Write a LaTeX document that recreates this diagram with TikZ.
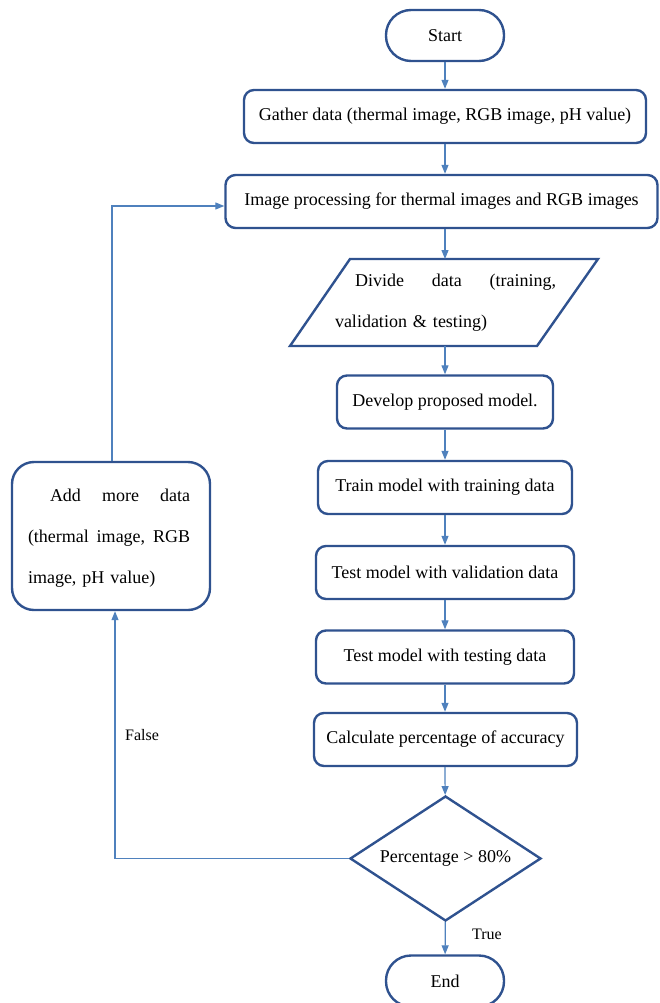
\documentclass[tikz,border=0pt]{standalone}
\usepackage{fontspec}
\setmainfont{Liberation Serif}
\usetikzlibrary{arrows.meta,shapes.geometric}
\definecolor{boxline}{RGB}{47,82,143}
\definecolor{arrowline}{RGB}{79,129,189}
\begin{document}
\begin{tikzpicture}[x=1pt,y=-1pt,
  every node/.style={font=\fontsize{18}{21}\selectfont},
  procbox/.style={draw=boxline,line width=2.4pt,rounded corners=10pt,inner sep=0pt,minimum height=53pt},
  termbox/.style={draw=boxline,line width=2.4pt,rounded corners=25pt,inner sep=0pt,minimum height=51pt,minimum width=118pt},
  flow/.style={draw=arrowline,line width=1.2pt,-{Triangle[length=9pt,width=7pt]}},
  lbl/.style={font=\fontsize{16}{19}\selectfont},
  wide/.style={inner sep=0pt,align=left,font=\fontsize{18}{41}\selectfont}]
\useasboundingbox (0,0) rectangle (659,1003);
\node[termbox] (start) at (445,35.5) {Start};
\node[procbox,minimum width=402pt] (gather) at (445,116.5) {Gather data (thermal image, RGB image, pH value)};
\node[procbox,minimum width=432pt] (imgproc) at (441.5,201.5) {Image processing for thermal images and RGB images};
\draw[boxline,line width=2.4pt,line join=miter] (350,259) -- (598,259) -- (537,346) -- (290,346) -- cycle;
\coordinate (divtop) at (445,259);
\coordinate (divbot) at (445,346);
\node[wide,text width=221pt] (divide) at (445.5,303)
  {\leavevmode\hspace*{20pt}\hbox to 201pt{Divide\hfill data\hfill (training,}\\validation \& testing)};
\node[procbox,minimum width=216pt] (develop) at (445,402) {Develop proposed model.};
\node[procbox,minimum width=254pt] (train) at (445,487.5) {Train model with training data};
\node[procbox,minimum width=258pt] (testval) at (445,572.5) {Test model with validation data};
\node[procbox,minimum width=258pt] (testtest) at (445,657) {Test model with testing data};
\node[procbox,minimum width=263pt] (calc) at (445.5,739.5) {Calculate percentage of accuracy};
\node[draw=boxline,line width=2.4pt,shape=diamond,inner sep=0pt,minimum width=191pt,minimum height=125pt,aspect=1.53] (dec) at (445.5,858.5) {Percentage > 80\%};
\node[termbox] (end) at (445,981) {End};
\node[draw=boxline,line width=2.4pt,rounded corners=22pt,minimum width=198pt,minimum height=148pt] (add) at (111,536) {};
\node[wide,text width=162pt] (addtxt) at (109,538)
  {\leavevmode\hspace*{22pt}\hbox to 140pt{Add\hfill more\hfill data}\\\leavevmode\hbox to 162pt{(thermal\hfill image,\hfill RGB}\\image, pH value)};
\coordinate (gs) at (gather.south);
\draw[flow] (start) -- (gather);
\draw[flow] (gs) -- (gs |- imgproc.north);
\draw[flow] (gs |- imgproc.south) -- (divtop);
\draw[flow] (divbot) -- (develop);
\draw[flow] (develop) -- (train);
\draw[flow] (train) -- (testval);
\draw[flow] (testval) -- (testtest);
\draw[flow] (testtest) -- (gs |- calc.north);
\draw[flow] (gs |- calc.south) -- (dec);
\draw[flow] (dec) -- (end);
\coordinate (fl) at (115,858.5);
\draw[flow] (dec.west) -- (fl) -- (add.south -| fl);
\coordinate (tl) at (112,206);
\draw[flow] (add.north -| tl) -- (tl) -- (tl -| imgproc.west);
\node[lbl] (false) at (142,735) {False};
\node[lbl] (true) at (487,934) {True};
\end{tikzpicture}
\end{document}
